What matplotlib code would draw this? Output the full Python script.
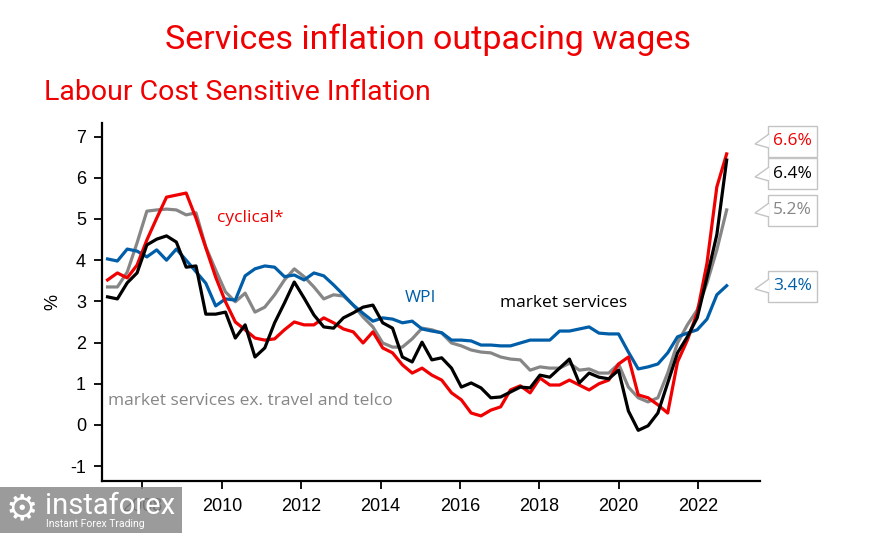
import numpy as np
import matplotlib.pyplot as plt
from matplotlib.patches import Polygon, Rectangle

plt.rcParams['axes.unicode_minus'] = False

# quarterly observations, 2007 to late 2022
dates = np.linspace(2007.12, 2022.72, 64)

cyclical = [3.52, 3.69, 3.57, 3.88, 4.49, 5.02, 5.53, 5.58, 5.63, 5.02,
            4.30, 3.59, 2.99, 2.50, 2.31, 2.11, 2.06, 2.09, 2.31, 2.50,
            2.43, 2.43, 2.60, 2.48, 2.33, 2.26, 1.99, 2.26, 1.87, 1.75,
            1.46, 1.26, 1.38, 1.21, 1.09, 0.78, 0.61, 0.29, 0.22, 0.36,
            0.44, 0.85, 0.95, 0.78, 1.14, 0.97, 0.97, 1.09, 0.97, 0.85,
            1.00, 1.09, 1.48, 1.65, 0.73, 0.66, 0.49, 0.29, 1.53, 2.06,
            2.72, 3.93, 5.78, 6.58]

market_services = [3.11, 3.06, 3.45, 3.69, 4.37, 4.51, 4.59, 4.44, 3.83, 3.86,
                   2.69, 2.69, 2.74, 2.11, 2.43, 1.65, 1.87, 2.48, 2.96, 3.47,
                   3.08, 2.67, 2.38, 2.35, 2.60, 2.72, 2.86, 2.91, 2.48, 2.35,
                   1.65, 1.53, 2.01, 1.58, 1.63, 1.38, 0.92, 1.02, 0.90, 0.66,
                   0.68, 0.80, 0.92, 0.90, 1.21, 1.16, 1.38, 1.60, 1.02, 1.26,
                   1.16, 1.12, 1.33, 0.34, -0.13, -0.02, 0.29, 1.02, 1.75, 2.14,
                   2.60, 3.59, 4.62, 6.43]

market_ex_travel = [3.35, 3.35, 3.71, 4.42, 5.19, 5.22, 5.24, 5.22, 5.10, 5.15,
                    4.32, 3.76, 3.23, 2.99, 3.20, 2.74, 2.86, 3.16, 3.52, 3.79,
                    3.60, 3.35, 3.06, 3.16, 3.13, 2.91, 2.62, 2.38, 1.99, 1.89,
                    1.89, 2.09, 2.35, 2.31, 2.23, 1.99, 1.92, 1.82, 1.77, 1.75,
                    1.65, 1.60, 1.58, 1.33, 1.41, 1.38, 1.38, 1.50, 1.33, 1.36,
                    1.26, 1.26, 1.48, 0.92, 0.66, 0.56, 0.66, 1.26, 1.99, 2.43,
                    2.79, 3.45, 4.25, 5.22]

wpi = [4.03, 3.98, 4.27, 4.22, 4.08, 4.25, 4.00, 4.27, 4.00, 3.72,
       3.44, 2.89, 3.06, 3.03, 3.62, 3.79, 3.86, 3.83, 3.60, 3.64,
       3.52, 3.69, 3.62, 3.40, 3.16, 2.91, 2.71, 2.52, 2.60, 2.57,
       2.48, 2.52, 2.33, 2.28, 2.24, 2.06, 2.06, 2.04, 1.94, 1.94,
       1.92, 1.92, 1.99, 2.06, 2.06, 2.06, 2.28, 2.28, 2.33, 2.38,
       2.23, 2.21, 2.21, 1.77, 1.36, 1.41, 1.48, 1.75, 2.14, 2.23,
       2.31, 2.57, 3.16, 3.38]

RED = '#f00000'
BLUE = '#005ea8'
GREY = '#868686'
BLACK = '#000000'

W, H = 888, 533
fig = plt.figure(figsize=(W / 100, H / 100), dpi=100)


def fx(x):
    return x / W


def fy(y):
    return 1 - y / H


ax = fig.add_axes([fx(102), fy(481), fx(760) - fx(102), fy(123) - fy(481)])

ax.plot(dates, market_ex_travel, color=GREY, lw=2.3)
ax.plot(dates, wpi, color=BLUE, lw=2.3)
ax.plot(dates, cyclical, color=RED, lw=2.3)
ax.plot(dates, market_services, color=BLACK, lw=2.3)

ax.set_xlim(2006.98, 2023.56)
ax.set_ylim(-1.36, 7.33)
ax.set_xticks(range(2008, 2023, 2))
ax.set_yticks(range(-1, 8))
ax.tick_params(length=5.5, width=1.3)
ax.tick_params(axis='x', pad=7)
ax.tick_params(axis='y', pad=6)
for lab in ax.get_xticklabels() + ax.get_yticklabels():
    lab.set_family('Liberation Sans')
    lab.set_fontsize(13)
for s in ['top', 'right']:
    ax.spines[s].set_visible(False)
for s in ['left', 'bottom']:
    ax.spines[s].set_linewidth(1.6)
ax.set_ylabel('%', fontsize=13, family='Liberation Sans', labelpad=6)

tfont = 'Open Sans'
ax.text(2009.87, 5.02, 'cyclical*', color=RED, fontsize=12.5, family=tfont, va='center')
ax.text(2014.61, 3.08, 'WPI', color=BLUE, fontsize=12.5, family=tfont, va='center')
ax.text(2017.0, 2.96, 'market services', color=BLACK, fontsize=12.5, family=tfont, va='center')
ax.text(2007.12, 0.58, 'market services ex. travel and telco', color=GREY,
        fontsize=12.5, family=tfont, va='center')

# end-value callouts
callouts = [(cyclical, RED, 141), (market_services, BLACK, 174),
            (market_ex_travel, GREY, 210), (wpi, BLUE, 286)]
for series, col, yc in callouts:
    x0, x1, h = 768, 817, 31
    fig.patches.append(Rectangle((fx(x0), fy(yc + h / 2)), fx(x1) - fx(x0), h / H,
                                 transform=fig.transFigure, fc='white', ec='#c4c4c4', lw=1))
    fig.patches.append(Polygon([(fx(x0 + 1), fy(yc - 7)), (fx(755), fy(yc + 3)),
                                (fx(x0 + 1), fy(yc + 7))], closed=False,
                               transform=fig.transFigure, fc='white', ec='#c4c4c4', lw=1))
    fig.text(fx((x0 + x1) / 2), fy(yc), f'{series[-1]:.1f}%', color=col, fontsize=12.5,
             family=tfont, ha='center', va='center')

fig.text(fx(428), fy(40), 'Services inflation outpacing wages', color=RED,
         fontsize=24.5, family='Roboto', ha='center', va='center')
fig.text(fx(44), fy(93), 'Labour Cost Sensitive Inflation', color=RED,
         fontsize=20.5, family='Roboto', ha='left', va='center')

# watermark
fig.patches.append(Rectangle((0, 0), fx(182), 46 / H, transform=fig.transFigure,
                             fc='#8a8a8a', ec='none', alpha=0.85, zorder=5))
fig.text(fx(6), fy(509), '\u2699', color='white', fontsize=26, va='center', zorder=6)
fig.text(fx(45), fy(506), 'instaforex', color='white', fontsize=21, family='Roboto',
         va='center', zorder=6)
fig.text(fx(46), fy(524), 'Instant Forex Trading', color='white', fontsize=7.5,
         family='Roboto', va='center', zorder=6)

fig.savefig('out.png', dpi=100)
